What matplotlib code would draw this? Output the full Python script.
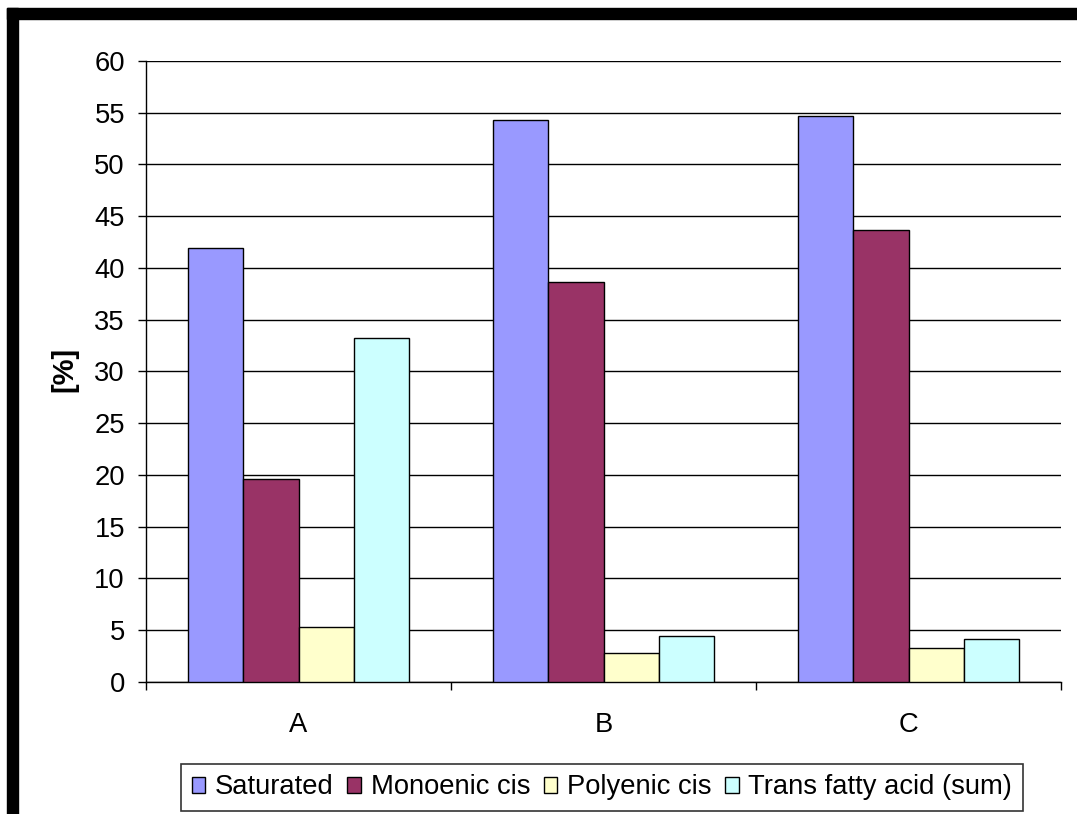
import matplotlib
matplotlib.use("Agg")
import matplotlib.pyplot as plt
from matplotlib.patches import Rectangle
import numpy as np

# Fatty acid composition per sample
categories = ["A", "B", "C"]
series_names = ["Saturated", "Monoenic cis", "Polyenic cis", "Trans fatty acid (sum)"]
saturated = [41.9, 54.3, 54.7]
monoenic_cis = [19.6, 38.6, 43.7]
polyenic_cis = [5.3, 2.8, 3.3]
trans_fatty = [33.2, 4.4, 4.1]
series_values = [saturated, monoenic_cis, polyenic_cis, trans_fatty]
series_colors = ["#9999FF", "#993366", "#FFFFCC", "#CCFFFF"]
y_ticks = list(range(0, 61, 5))

W, H = 1077, 814
plt.rcParams["font.family"] = ["Liberation Sans", "DejaVu Sans"]
fs = 19.7

fig = plt.figure(figsize=(W / 100, H / 100), dpi=100)
fig.patch.set_facecolor("white")

# Plot area in pixel units
left_px, right_px, top_px, bottom_px = 146, 1061, 61, 681.7
ax = fig.add_axes([left_px / W, 1 - bottom_px / H,
                   (right_px - left_px) / W, (bottom_px - top_px) / H])

n_series = len(series_values)
bar_w = 1 / (n_series + 1.5)
x = np.arange(len(categories))
for j, (vals, col, name) in enumerate(zip(series_values, series_colors, series_names)):
    ax.bar(x + (j - (n_series - 1) / 2) * bar_w, vals, width=bar_w, color=col,
           edgecolor="black", linewidth=1.0, label=name, zorder=3)

ax.set_xlim(-0.5, len(categories) - 0.5)
ax.set_ylim(0, 60)
ax.set_yticks(y_ticks)
ax.yaxis.grid(True, color="black", linewidth=1.0, zorder=0)
ax.set_axisbelow(True)

for side in ("top", "right"):
    ax.spines[side].set_visible(False)
for side in ("left", "bottom"):
    ax.spines[side].set_color("black")
    ax.spines[side].set_linewidth(1.0)

ax.tick_params(axis="y", direction="out", length=5.8, width=1.0, pad=9.4,
               labelsize=fs, colors="black")
# Category boundaries carry the tick marks, category centres carry the labels
ax.set_xticks(np.arange(-0.5, len(categories), 1.0))
ax.set_xticklabels([])
ax.set_xticks(x, minor=True)
ax.set_xticklabels(categories, minor=True)
ax.tick_params(axis="x", which="major", direction="out", length=5.8, width=1.0)
ax.tick_params(axis="x", which="minor", length=0, pad=21.6, labelsize=fs)

fig.text(64 / W, 1 - 369 / H, "[%]", rotation=90, ha="center", va="center",
         fontsize=21, fontweight="bold")

leg = fig.legend(loc="center", bbox_to_anchor=(602 / W, 1 - 787.5 / H),
                 ncol=4, fontsize=fs, frameon=True, fancybox=False,
                 edgecolor="black", borderpad=0.4, handlelength=0.5,
                 handleheight=0.5, handletextpad=0.35, columnspacing=0.5,
                 borderaxespad=0)
leg.get_frame().set_linewidth(1.2)

# Heavy black frame along top and left edges
fig.patches.append(Rectangle((7 / W, 1 - 19 / H), 1 - 7 / W, 11 / H,
                             transform=fig.transFigure, color="black", zorder=10))
fig.patches.append(Rectangle((7 / W, 0), 11 / W, 1 - 8 / H,
                             transform=fig.transFigure, color="black", zorder=10))

fig.savefig("out.png", dpi=100)
